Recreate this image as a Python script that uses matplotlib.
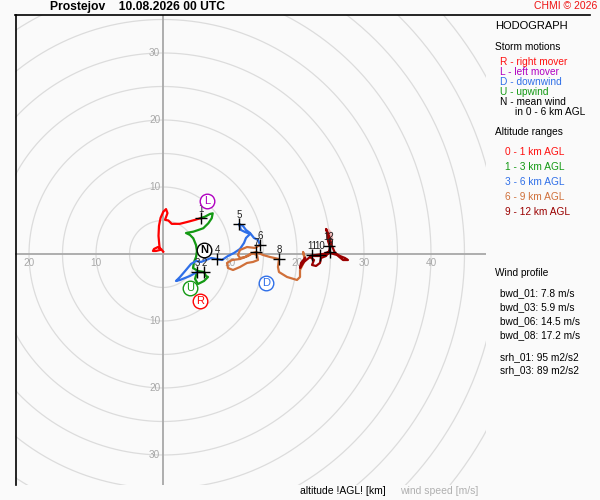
import numpy as np
import matplotlib
matplotlib.use("Agg")
import matplotlib.pyplot as plt
from matplotlib.lines import Line2D

plt.rcParams['font.family'] = ['Liberation Sans', 'DejaVu Sans']

# hodograph segments, wind components u/v in m/s
red_u = [0.04, -0.3, -0.75, -1.34, -1.5, -1.04, -0.45, -0.55, -0.67, -0.6, -0.36, 0.04, 0.45, 0.67, 0.3, 0.8, 1.3, 2.5, 3.7, 4.8, 5.67]
red_v = [0.34, 0.75, 1.04, 0.75, 0.45, 0.45, 0.6, 1.34, 2.7, 4.2, 5.4, 6.3, 6.7, 6.1, 5.1, 5.0, 4.5, 4.5, 4.8, 5.1, 5.37]

green_u = [5.67, 6.27, 7.01, 7.42, 7.27, 6.76, 6.01, 5.27, 4.52, 3.43, 4.03, 4.52, 4.93, 5.07, 4.93, 4.63, 4.48, 5.22, 6.12, 6.42, 6.72, 6.12, 5.22, 4.78, 5.07]
green_v = [5.37, 5.57, 5.97, 6.07, 5.33, 4.58, 3.84, 3.58, 3.33, 3.13, 2.84, 2.34, 1.34, 0.45, -0.45, -1.19, -2.09, -2.54, -2.69, -3.28, -3.43, -4.03, -4.48, -3.73, -2.69]

blue_u = [5.07, 4.03, 2.54, 1.94, 2.54, 3.43, 4.18, 4.93, 5.67, 6.42, 7.16, 8.06, 8.81, 9.70, 10.60, 11.49, 12.09, 12.39, 12.99, 12.24, 11.64, 11.34, 11.94, 12.39, 12.99, 13.58, 14.18, 14.48]
blue_v = [-2.69, -3.28, -3.88, -4.03, -3.43, -2.39, -1.49, -1.04, -1.19, -0.90, -0.60, -0.75, -0.90, -0.30, 0.15, 0.75, 1.64, 2.39, 2.99, 3.28, 3.58, 4.48, 4.18, 3.58, 3.13, 2.39, 2.09, 1.34]

orange_u = [14.48, 13.73, 12.54, 11.49, 11.19, 11.49, 12.24, 13.28, 14.03, 14.18, 13.43, 12.54, 11.49, 10.45, 9.70, 9.55, 10.30, 11.49, 12.69, 13.43, 13.88, 14.93, 15.97, 17.31, 17.16, 17.31, 18.51, 20.00, 20.45, 20.45, 20.75, 21.19, 20.90, 21.19]
orange_v = [1.34, 0.90, 1.04, 0.60, -0.15, -0.60, -0.45, 0.15, -0.15, -0.90, -1.19, -1.34, -1.94, -2.39, -2.09, -1.34, -0.90, -0.75, -0.30, 0.15, 0.30, -0.15, -0.45, -0.75, -1.94, -2.69, -3.43, -3.88, -3.43, -2.39, -1.79, -0.90, 0.30, -0.60]

dred_u = [21.19, 20.60, 20.45, 21.04, 21.94, 22.54, 22.24, 22.84, 23.43, 23.58, 24.33, 24.78, 24.93, 24.63, 24.48, 24.33, 24.78, 25.22, 25.67, 26.42, 27.16, 27.61, 26.87, 25.97, 24.93, 23.88, 22.84, 21.94, 23.43, 24.63]
dred_v = [-0.60, -1.34, -2.09, -1.19, -0.45, -0.90, -1.64, -1.79, -1.34, -0.60, -0.30, 0.30, 1.04, 1.94, 3.28, 3.73, 2.69, 1.19, 0.15, -0.30, -0.60, -0.90, -0.90, -0.15, 0.15, 0.00, -0.15, -0.30, -0.30, 0.30]

top_u = [24.78, 25.22, 25.07, 24.63]
top_v = [1.19, 2.09, 3.13, 3.58]

# altitude marks (km)
alt_km = ['1', '2', '3', '4', '5', '6', '7', '8', '9', '10', '11', '12']
alt_u = [5.67, 6.12, 5.07, 8.06, 11.34, 14.48, 13.88, 17.31, 24.93, 23.43, 22.24, 24.78]
alt_v = [5.37, -2.69, -2.69, -0.75, 4.48, 1.34, 0.30, -0.75, 0.30, -0.15, -0.15, 1.19]

# storm motions
storm_names = ['R', 'L', 'D', 'U', 'N']
storm_u = [5.52, 6.57, 15.37, 4.03, 6.12]
storm_v = [-7.01, 7.91, -4.33, -5.07, 0.60]
storm_cols = ['#ff0000', '#b000c0', '#2f6fe8', '#139913', '#000000']

ring_speeds = np.arange(5, 65, 5)
tick_speeds = [10, 20, 30, 40]

wind_profile = ['bwd_01: 7.8 m/s', 'bwd_03: 5.9 m/s', 'bwd_06: 14.5 m/s', 'bwd_08: 17.2 m/s']
srh_lines = ['srh_01: 95 m2/s2', 'srh_03: 89 m2/s2']

bg = '#fafafa'
fig = plt.figure(figsize=(6, 5), dpi=100, facecolor=bg)
ax = fig.add_axes([15/600, 15/500, 471/600, 470/500])
ax.set_facecolor(bg)
ax.set_xlim(-22.09, 48.21)
ax.set_ylim(-34.48, 35.67)
for s in ax.spines.values():
    s.set_visible(False)
ax.set_xticks([])
ax.set_yticks([])

# range rings and axes
t = np.linspace(0, 2*np.pi, 400)
for r in ring_speeds:
    ax.plot(r*np.cos(t), r*np.sin(t), color='#dcdcdc', lw=0.9, zorder=1)
ax.axhline(0, color='#a8a8a8', lw=1.3, zorder=2)
ax.axvline(0, color='#a8a8a8', lw=1.3, zorder=2)

for v in tick_speeds:
    if v <= 30:
        ax.text(-0.4, v, str(v), color='#a8a8a8', fontsize=7.2, ha='right', va='center', zorder=3)
        ax.text(-0.4, -v, str(v), color='#a8a8a8', fontsize=7.2, ha='right', va='center', zorder=3)
    ax.text(v, -1.3, str(v), color='#a8a8a8', fontsize=7.2, ha='center', va='center', zorder=3)
    if v <= 20:
        ax.text(-v, -1.3, str(v), color='#a8a8a8', fontsize=7.2, ha='center', va='center', zorder=3)

# hodograph
ax.plot(top_u, top_v, color='#f0b8b8', lw=2, zorder=4)
ax.plot(red_u, red_v, color='#ff0000', lw=1.6, zorder=5)
ax.plot(green_u, green_v, color='#139913', lw=1.6, zorder=5)
ax.plot(blue_u, blue_v, color='#2f6fe8', lw=1.6, zorder=5)
ax.plot(orange_u, orange_v, color='#d0703a', lw=1.6, zorder=5)
ax.plot(dred_u, dred_v, color='#9a0000', lw=1.6, zorder=5)

ax.plot(alt_u, alt_v, '+', color='black', ms=9, mew=1, zorder=6)
for lab, u, v in zip(alt_km, alt_u, alt_v):
    ax.annotate(lab, (u, v), xytext=(0, 3), textcoords='offset points',
                ha='center', va='bottom', fontsize=7, color='#222222', zorder=7)

for name, u, v, c in zip(storm_names, storm_u, storm_v, storm_cols):
    ax.plot(u, v, 'o', ms=10.5, mfc='white', mec=c, mew=1, zorder=8)
    ax.text(u, v, name, color=c, fontsize=8, ha='center', va='center',
            fontweight='bold' if name == 'N' else 'normal', zorder=9)

# frame lines
fig.add_artist(Line2D([15/600, 590/600], [1-15/500, 1-15/500], color='black', lw=1.2))
fig.add_artist(Line2D([15.5/600, 15.5/600], [1-15/500, 1-485/500], color='black', lw=1.2))

def ftext(x, y, s, **kw):
    fig.text(x/600, 1-y/500, s, va='center', **kw)

ftext(50, 7, 'Prostejov    10.08.2026 00 UTC', fontsize=8.7, fontweight='bold')
ftext(597, 6, 'CHMI \u00a9 2026', fontsize=7.5, color='#ee1111', ha='right')

ftext(495, 26, 'HODOGRAPH', fontsize=8)
ftext(495, 47, 'Storm motions', fontsize=7.3)
ftext(500, 62, 'R - right mover', fontsize=7.3, color='#ff1010')
ftext(500, 72, 'L - left mover', fontsize=7.3, color='#b000c0')
ftext(500, 82, 'D - downwind', fontsize=7.3, color='#2f6fe8')
ftext(500, 92, 'U - upwind', fontsize=7.3, color='#139913')
ftext(500, 102, 'N - mean wind', fontsize=7.3)
ftext(515, 112, 'in 0 - 6 km AGL', fontsize=7.3)

ftext(495, 132, 'Altitude ranges', fontsize=7.3)
ranges = ['0 - 1 km AGL', '1 - 3 km AGL', '3 - 6 km AGL', '6 - 9 km AGL', '9 - 12 km AGL']
range_cols = ['#ff1010', '#139913', '#2f6fe8', '#d0703a', '#9a0000']
for i, (lab, c) in enumerate(zip(ranges, range_cols)):
    ftext(505, 152 + 15*i, lab, fontsize=7.3, color=c)

ftext(495, 272.5, 'Wind profile', fontsize=7.3)
for i, lab in enumerate(wind_profile):
    ftext(500, 293.5 + 13.9*i, lab, fontsize=7.3)
for i, lab in enumerate(srh_lines):
    ftext(500, 357.5 + 12.8*i, lab, fontsize=7.3)

ftext(300, 491.5, 'altitude !AGL! [km]', fontsize=7.5)
ftext(400, 491.5, 'wind speed [m/s]', fontsize=7.5, color='#b0b0b0')

fig.savefig('out.png', dpi=100, facecolor=bg)
